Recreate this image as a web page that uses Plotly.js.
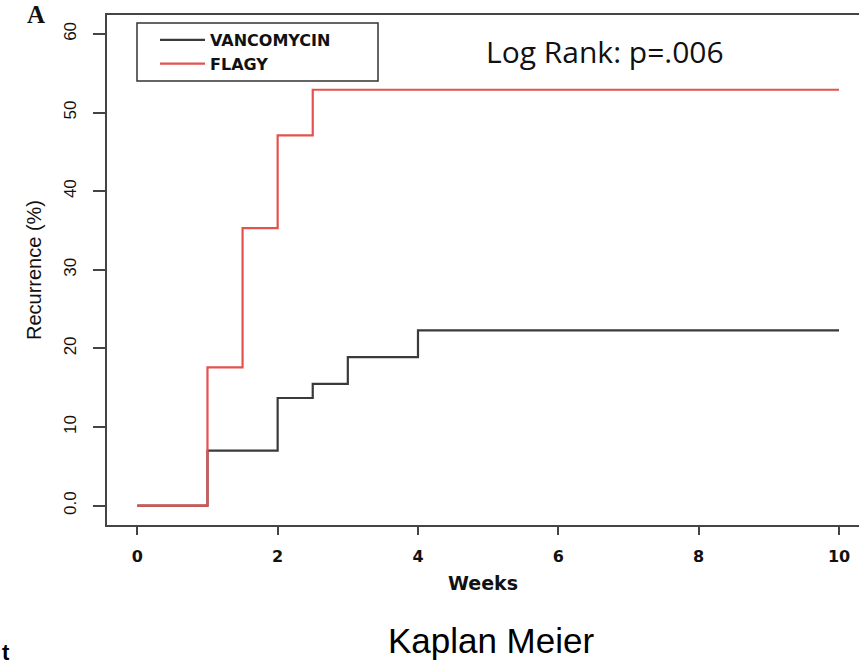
<!DOCTYPE html>
<html>
<head>
<meta charset="utf-8">
<script src="https://cdn.plot.ly/plotly-3.0.1.min.js"></script>
<style>html,body{margin:0;padding:0;background:#fff;overflow:hidden}</style>
</head>
<body>
<div id="chart" style="width:859px;height:664px"></div>
<script>
// Kaplan-Meier step data (weeks, recurrence %)
const vancoWeeks = [0, 1, 2, 2.5, 3, 4, 10];
const vancoRecurrence = [0, 7.0, 13.7, 15.5, 18.9, 22.3, 22.3];
const flagyWeeks = [0, 1, 1.5, 2, 2.5, 10];
const flagyRecurrence = [0, 17.6, 35.3, 47.1, 52.9, 52.9];
const seriesNames = ["VANCOMYCIN", "FLAGY"];
const xTickVals = [0, 2, 4, 6, 8, 10];
const yTickVals = [0, 10, 20, 30, 40, 50, 60];
const yTickText = ["0.0", "10", "20", "30", "40", "50", "60"];

const W = 859, H = 664;
const L = 107, R = 0, T = 15, B = 139;
const pw = W - L - R, ph = H - T - B;
const px = x => (x - L) / pw;
const py = y => (H - B - y) / ph;

const traces = [
  {x: vancoWeeks, y: vancoRecurrence, name: seriesNames[0], type: "scatter", mode: "lines",
   line: {shape: "hv", color: "#3a3a3a", width: 2.2}},
  {x: flagyWeeks, y: flagyRecurrence, name: seriesNames[1], type: "scatter", mode: "lines",
   line: {shape: "hv", color: "#e3524e", width: 2.2}}
];

const axisColor = "#444";
const layout = {
  width: W, height: H,
  margin: {l: L, r: R, t: T, b: B, pad: 0},
  paper_bgcolor: "#fff", plot_bgcolor: "#fff",
  showlegend: true,
  legend: {x: px(155), y: py(23), xanchor: "left", yanchor: "top",
    bgcolor: "rgba(0,0,0,0)", borderwidth: 0, itemwidth: 45,
    font: {family: "DejaVu Sans", size: 16, color: "#111", weight: "bold"}},
  title: {text: "Kaplan Meier", x: 491 / W, xanchor: "center", xref: "container",
    y: 1 - 641 / H, yanchor: "middle", yref: "container",
    font: {family: "Liberation Sans", size: 35, color: "#000"}},
  xaxis: {range: [-0.432, 10.285], tickvals: xTickVals, ticks: "outside", ticklen: 8,
    tickwidth: 2, tickcolor: axisColor, showline: true, linecolor: axisColor, linewidth: 2,
    mirror: true, showgrid: false, zeroline: false, ticklabelstandoff: 8,
    tickfont: {family: "DejaVu Sans", size: 16, color: "#111", weight: "bold"},
    title: {text: "Weeks", standoff: 11,
      font: {family: "DejaVu Sans", size: 19, color: "#111", weight: "bold"}}},
  yaxis: {range: [-2.455, 62.41], tickvals: yTickVals, ticktext: yTickText, tickangle: -90,
    ticks: "outside", ticklen: 12, tickwidth: 2, tickcolor: axisColor, showline: true,
    linecolor: axisColor, linewidth: 2, mirror: false, showgrid: false, zeroline: false,
    ticklabelstandoff: 10,
    tickfont: {family: "Liberation Sans", size: 17, color: "#111"},
    title: {text: "Recurrence (%)", standoff: 14,
      font: {family: "Liberation Sans", size: 20, color: "#111"}}},
  shapes: [
    {type: "rect", xref: "paper", yref: "paper", x0: px(137), x1: px(378), y0: py(81), y1: py(23),
     line: {color: "#333", width: 1.5}, fillcolor: "rgba(0,0,0,0)"}
  ],
  annotations: [
    {text: "Log Rank: p=.006", xref: "paper", yref: "paper", x: px(484), y: py(52),
     xanchor: "left", yanchor: "middle", showarrow: false,
     font: {family: "Open Sans", size: 30, color: "#111"}},
    {text: "A", xref: "paper", yref: "paper", x: px(25), y: py(14),
     xanchor: "left", yanchor: "middle", showarrow: false,
     font: {family: "Liberation Serif", size: 25, color: "#111", weight: "bold"}},
    {text: "t", xref: "paper", yref: "paper", x: px(0), y: py(652),
     xanchor: "left", yanchor: "middle", showarrow: false,
     font: {family: "Liberation Sans", size: 22, color: "#000", weight: "bold"}}
  ]
};

Plotly.newPlot("chart", traces, layout, {displayModeBar: false, staticPlot: true});
</script>
</body>
</html>
